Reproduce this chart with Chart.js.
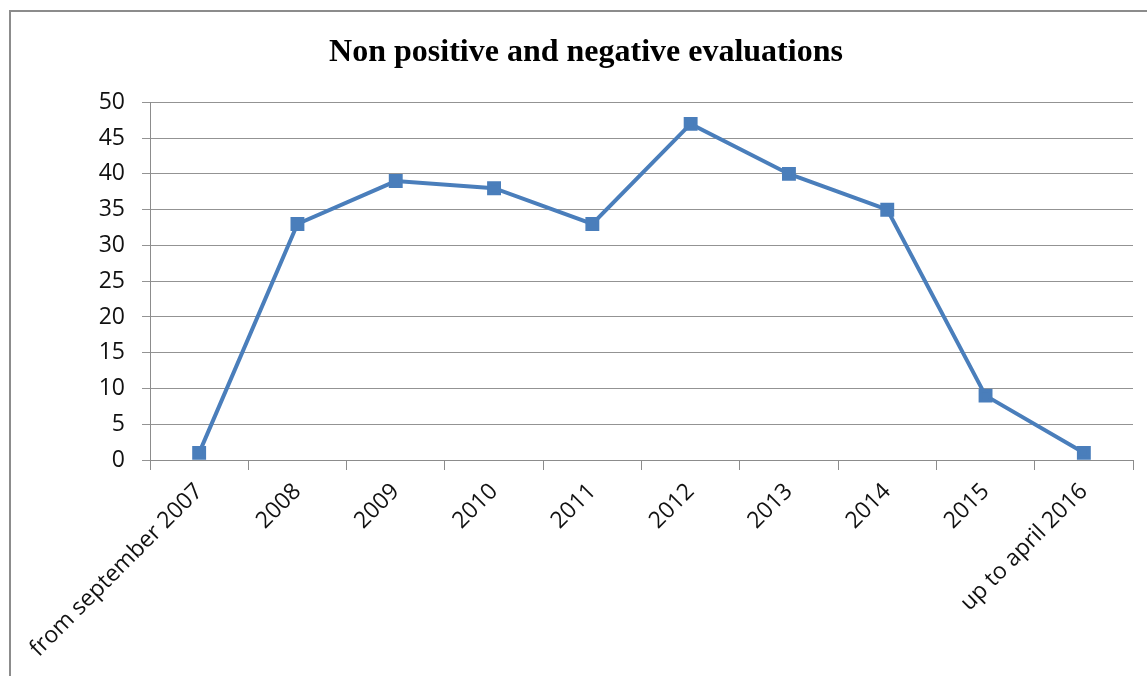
<!DOCTYPE html>
<html lang="en">
  <head>
    <meta charset="UTF-8" />
    <title>Non positive and negative evaluations</title>
    <style>
      html, body {
        margin: 0;
        padding: 0;
        background: #fff;
        overflow: hidden;
      }
      #frame {
        position: absolute;
        left: 9px;
        top: 10px;
        width: 1160px;
        height: 700px;
        border: 2px solid #8c8c8c;
      }
      #chart {
        position: absolute;
        left: 0;
        top: 0;
      }
    </style>
  </head>
  <body>
    <div id="frame"></div>
    <canvas id="chart" width="1147" height="676"></canvas>

    <script src="https://cdn.jsdelivr.net/npm/chart.js@4/dist/chart.umd.min.js"></script>
    <script>
      const categories = [
        "from september 2007", "2008", "2009", "2010", "2011",
        "2012", "2013", "2014", "2015", "up to april 2016"
      ];
      const evaluations = [1, 33, 39, 38, 33, 47, 40, 35, 9, 1];
      const yMin = 0;
      const yMax = 50;
      const yStep = 5;

      const labelFont = { family: "'Open Sans', sans-serif", size: 23 };

      new Chart("chart", {
        type: "line",
        data: {
          labels: categories,
          datasets: [
            {
              label: "evaluations",
              data: evaluations,
              borderColor: "#4a7ebb",
              backgroundColor: "#4a7ebb",
              borderWidth: 4,
              pointStyle: "rect",
              pointRadius: 7,
              pointHoverRadius: 7,
              tension: 0,
            },
          ],
        },
        options: {
          responsive: false,
          animation: false,
          layout: { padding: { left: 39, right: 14, top: 0, bottom: 0 } },
          plugins: {
            legend: { display: false },
            tooltip: { enabled: false },
            title: {
              display: true,
              text: "Non positive and negative evaluations",
              color: "#000",
              font: { family: "'Liberation Serif', 'Times New Roman', serif", size: 32, weight: "bold" },
              padding: { top: 34, bottom: 30 },
            },
          },
          scales: {
            x: {
              offset: true,
              grid: {
                offset: true,
                drawOnChartArea: false,
                drawTicks: true,
                tickLength: 10,
                color: "#8c8c8c",
              },
              border: { color: "#8c8c8c", width: 1 },
              ticks: {
                color: "#111",
                font: labelFont,
                minRotation: 45,
                maxRotation: 45,
                autoSkip: false,
                padding: 8,
              },
              afterFit: (scale) => {
                scale.height = 216;
              },
            },
            y: {
              min: yMin,
              max: yMax,
              grid: {
                color: "#939393",
                tickLength: 8,
              },
              border: { color: "#8c8c8c", width: 1 },
              ticks: {
                stepSize: yStep,
                color: "#111",
                font: labelFont,
                padding: 17,
              },
              afterFit: (scale) => {
                scale.width = 111;
              },
            },
          },
        },
      });
    </script>
  </body>
</html>
